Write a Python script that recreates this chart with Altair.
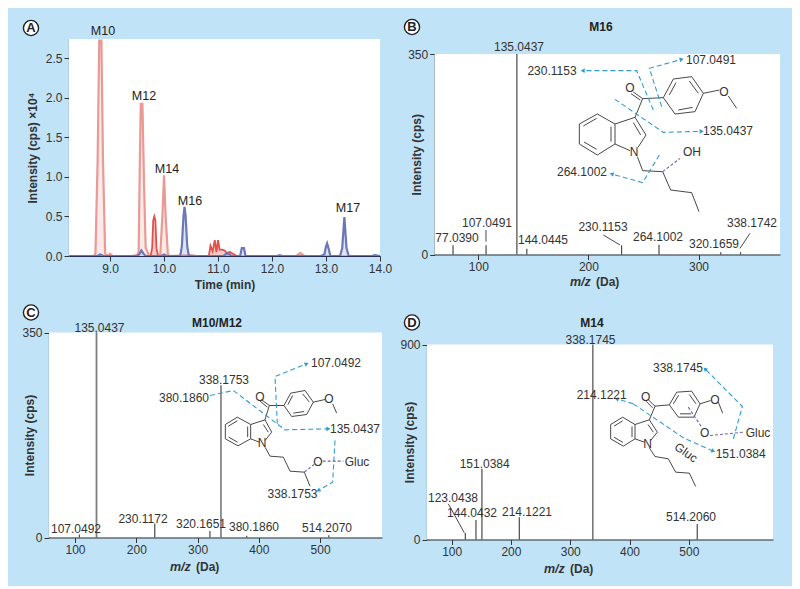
import math
import altair as alt
import pandas as pd

FONT = "Liberation Sans"
BG = "#c1e3f7"
INK = "#333333"
BLUE = "#2f9bd3"
PURPLE = "#6a63b5"
CW, CH = 392, 288.5
ORIG = {"A": (8, 8), "B": (400, 8), "C": (8, 296.5), "D": (400, 296.5)}

# ---------- panel A: chromatogram traces (min, cps x 10^4)
red_t = [8.24, 8.70, 8.73, 8.77, 8.80, 8.84, 8.87, 8.91, 8.95, 9.0, 9.05, 9.40, 9.50, 9.53, 9.55, 9.57, 9.60, 9.63, 9.66, 9.69, 9.72, 9.90, 9.93, 9.97, 10.0, 10.03, 10.07, 10.10, 10.5, 10.6, 12.45, 12.52, 12.6, 14.0]
red_i = [0, 0, 0.03, 1.2, 2.72, 2.72, 1.2, 0.03, 0, 0.03, 0, 0, 0.01, 0.05, 1.1, 1.92, 1.92, 0.9, 0.10, 0.06, 0.0, 0.0, 0.02, 0.5, 1.02, 0.5, 0.03, 0, 0.01, 0, 0, 0.04, 0, 0]
dark_t = [9.75, 9.78, 9.80, 9.82, 9.84, 9.86, 9.89, 10.83, 10.86, 10.90, 10.94, 10.97, 11.0, 11.03, 11.08, 11.12, 11.16, 11.22, 11.3, 11.35]
dark_i = [0, 0.1, 0.45, 0.50, 0.45, 0.1, 0, 0, 0.13, 0.06, 0.20, 0.05, 0.20, 0.08, 0.08, 0.07, 0.04, 0.05, 0.02, 0]
blue_t = [8.24, 8.76, 8.82, 8.88, 9.5, 9.54, 9.58, 9.62, 9.66, 9.95, 10.0, 10.05, 10.30, 10.33, 10.36, 10.38, 10.40, 10.43, 10.46, 11.1, 11.16, 11.2, 11.25, 11.41, 11.44, 11.48, 11.51, 12.1, 12.14, 12.2, 12.9, 12.97, 13.0, 13.02, 13.05, 13.08, 13.26, 13.30, 13.34, 13.38, 13.42, 13.85, 13.9, 14.0]
blue_i = [0, 0, 0.02, 0, 0, 0.02, 0.07, 0.03, 0, 0, 0.02, 0, 0, 0.12, 0.5, 0.62, 0.5, 0.12, 0, 0, 0.03, 0.03, 0, 0, 0.10, 0.10, 0, 0, 0.01, 0, 0, 0.02, 0.12, 0.16, 0.09, 0, 0, 0.1, 0.49, 0.1, 0, 0, 0.01, 0]

# ---------- spectra: m/z and intensity
b_mz = [77.04, 107.05, 135.04, 144.04, 230.12, 264.10, 320.17, 338.17]
b_int = [16, 16, 350, 10, 16, 17, 4, 4]
c_mz = [107.05, 135.04, 230.12, 320.17, 338.18, 380.19, 514.21]
c_int = [5, 350, 24, 11, 260, 3, 4]
d_mz = [123.04, 141.0, 151.04, 214.12, 338.17, 514.21]
d_int = [30, 90, 326, 103, 900, 72]

# ---------- labels: text, then image-pixel centre
a_labels = [("M10", 103, 31), ("M12", 144, 96), ("M14", 167, 169), ("M16", 190, 201), ("M17", 348, 208)]
b_labels = [("135.0437", 519, 47), ("77.0390", 457, 238), ("107.0491", 487, 223), ("144.0445", 543, 240),
            ("230.1153", 603, 227), ("264.1002", 658, 237), ("320.1659", 714, 244), ("338.1742", 752, 223),
            ("230.1153", 552, 71), ("107.0491", 711, 60), ("135.0437", 728, 131), ("264.1002", 582, 172),
            ("OH", 692, 152), ("O", 630, 88), ("O", 724, 92), ("N", 634, 152)]
c_labels = [("135.0437", 99.5, 327), ("107.0492", 76, 528), ("230.1172", 143, 518), ("320.1651", 201, 523),
            ("380.1860", 254, 526), ("514.2070", 327, 527), ("338.1753", 224, 379), ("380.1860", 184, 397),
            ("107.0492", 336, 362), ("135.0437", 355, 428), ("338.1753", 292.5, 493), ("Gluc", 357, 461),
            ("O", 329, 398), ("O", 318, 461), ("N", 262, 442), ("O", 260, 396)]
d_labels = [("338.1745", 590.5, 339), ("151.0384", 484.7, 463), ("123.0438", 453, 497), ("144.0432", 472, 512),
            ("214.1221", 527, 511), ("514.2060", 691, 516), ("338.1745", 678, 367), ("214.1221", 601.7, 394),
            ("151.0384", 740.7, 453), ("Gluc", 758, 432), ("O", 645.7, 396), ("O", 715, 399), ("O", 704.7, 432),
            ("N", 647.7, 443)]

b_solid = [
    [(592,342),(645,372),(645,432),(592,465),(538,432),(538,372),(592,342)],
    [(550,378),(590,355)], [(552,426),(590,448)], [(633,380),(633,425)],
    [(645,372),(705,352),(738,405),(714,442)], [(645,432),(690,452)], [(700,368),(722,405)],
    [(705,352),(728,296),(790,293)], [(728,296),(700,276)], [(721,300),(693,281)],
    [(790,293),(820,237),(875,230),(910,280),(885,335),(825,342),(790,293)],
    [(808,285),(828,248)], [(868,243),(895,280)], [(878,322),(835,330)],
    [(910,280),(958,270)], [(985,288),(1010,325)],
    [(712,470),(728,512),(788,515),(812,570),(875,578),(897,635)],
]
b_blue = [
    [(760,330),(710,212),(548,212)], [(785,320),(748,205),(845,178)],
    [(645,298),(790,397),(905,394)], [(778,465),(728,548),(635,522)],
]
b_purple = [[(788,515),(840,475)]]
b_leaders = [[(258,690),(258,725)], [(610,705),(660,735)], [(1020,745),(1050,700)]]

c_solid = [
    [(712,350),(752,372),(752,415),(714,436),(676,415),(676,372),(712,350)],
    [(685,377),(712,361)], [(686,410),(713,425)], [(743,378),(743,410)],
    [(752,372),(795,358),(815,395),(795,420)], [(752,415),(778,425)], [(790,372),(805,395)],
    [(795,358),(808,315),(852,315)], [(808,315),(785,298)], [(802,320),(780,302)],
    [(852,315),(872,278),(915,270),(940,305),(920,342),(875,348),(852,315)],
    [(864,312),(878,285)], [(908,280),(928,305)], [(912,333),(880,338)],
    [(940,305),(975,297)], [(998,310),(1010,338)],
    [(795,440),(810,467),(850,470),(870,512),(913,515),(930,557)],
]
c_blue = [
    [(832,370),(825,228),(920,190)], [(630,285),(700,270),(855,388),(985,385)],
    [(1005,420),(998,545),(955,570)],
]
c_purple = [[(913,515),(942,492)], [(968,482),(1030,482)]]

d_solid = [
    [(668,350),(705,372),(705,415),(670,437),(632,415),(632,372),(668,350)],
    [(642,377),(668,361)], [(642,410),(669,426)], [(696,378),(696,410)],
    [(705,372),(748,358),(772,395),(752,420)], [(705,415),(733,425)], [(744,372),(760,395)],
    [(748,358),(765,317),(808,313)], [(765,317),(745,298)], [(758,322),(738,302)],
    [(808,313),(830,275),(875,272),(900,310),(882,350),(835,350),(808,313)],
    [(820,310),(836,284)], [(868,282),(888,310)], [(873,340),(840,340)],
    [(900,310),(932,300)], [(955,305),(968,338)],
    [(748,442),(765,468),(805,475),(827,515),(868,518),(887,558)],
]
d_blue = [
    [(1000,415),(1027,318),(915,205)], [(700,310),(850,412),(940,452)], [(700,310),(650,295)],
]
d_purple = [[(865,320),(905,380)], [(930,405),(1030,395)]]
d_leaders = [[(145,610),(193,697)]]


class P:
    def __init__(self, key, xpx, ypx, xd, yd, crop):
        self.key, self.xpx, self.ypx, self.xd, self.yd, self.crop = key, xpx, ypx, xd, yd, crop
        self.ox, self.oy = ORIG[key]

    def dx(self, px):
        return self.xd[0] + (px - self.xpx[0]) / (self.xpx[1] - self.xpx[0]) * (self.xd[1] - self.xd[0])

    def dy(self, py):
        return self.yd[0] + (py - self.ypx[0]) / (self.ypx[1] - self.ypx[0]) * (self.yd[1] - self.yd[0])

    def crop_xy(self, z):
        return self.crop[0] + z[0] / 3, self.crop[1] + z[1] / 3

    def encs(self, xticks, yticks, fmt, xtitle, ytitle, tpad, ypad, domain=INK):
        sx = alt.Scale(domain=list(self.xd), range=[self.xpx[0] - self.ox, self.xpx[1] - self.ox], nice=False, zero=False)
        sy = alt.Scale(domain=list(self.yd), range=[self.ypx[0] - self.oy, self.ypx[1] - self.oy], nice=False, zero=False)
        common = dict(tickColor=INK, labelColor=INK, titleColor=INK, grid=False, tickSize=5,
                      labelFont=FONT, titleFont=FONT, labelFontSize=12, titleFontSize=12, titleFontWeight="bold",
                      domainWidth=1.2, tickWidth=1, labelPadding=2)
        ax = alt.Axis(orient="bottom", offset=-(CH - (self.ypx[0] - self.oy)), values=xticks, format=fmt, domainColor=domain,
                      title=xtitle, titlePadding=tpad, labelFlush=False, labelOverlap=False, zindex=1, **common)
        ay = alt.Axis(orient="left", offset=-(self.xpx[0] - self.ox), values=yticks, title=ytitle, domainColor=INK,
                      titlePadding=ypad, labelOverlap=False, **common)
        self.X = alt.X("x:Q", scale=sx, axis=ax)
        self.Y = alt.Y("y:Q", scale=sy, axis=ay)

    def base(self):
        df = pd.DataFrame({"x": [self.xd[0]], "x2": [self.xd[1]], "y": [self.yd[0]], "y2": [self.yd[1]]})
        return alt.Chart(df).mark_rect(color="white").encode(x=self.X, x2="x2:Q", y=self.Y, y2="y2:Q")

    def texts(self, labels, size=12, color=INK, **kw):
        df = pd.DataFrame([{"t": t, "x": self.dx(a), "y": self.dy(b)} for t, a, b in labels])
        return alt.Chart(df).mark_text(font=FONT, fontSize=size, color=color, **kw).encode(x=self.X, y=self.Y, text="t:N")

    def lines(self, polys, color, width=1.0, dash=None):
        rows = []
        for i, poly in enumerate(polys):
            for j, z in enumerate(poly):
                a, b = self.crop_xy(z)
                rows.append({"id": i, "o": j, "x": self.dx(a), "y": self.dy(b)})
        kw = {"strokeDash": dash} if dash else {}
        return alt.Chart(pd.DataFrame(rows)).mark_line(color=color, strokeWidth=width, **kw).encode(
            x=self.X, y=self.Y, detail="id:N", order="o:Q")

    def heads(self, polys, color=BLUE):
        rows = []
        for poly in polys:
            a0, b0 = self.crop_xy(poly[-2])
            a1, b1 = self.crop_xy(poly[-1])
            rows.append({"x": self.dx(a1), "y": self.dy(b1), "a": (math.degrees(math.atan2(a1 - a0, b0 - b1)) + 360) % 360})
        return alt.Chart(pd.DataFrame(rows)).mark_point(shape="triangle-up", filled=True, size=22, color=color, opacity=1).encode(
            x=self.X, y=self.Y, angle=alt.Angle("a:Q", scale=None))

    def badge(self, letter, cx, cy):
        df = pd.DataFrame({"x": [self.dx(cx)], "y": [self.dy(cy)], "t": [letter]})
        c = alt.Chart(df).mark_point(shape="circle", filled=True, fill="white", stroke="#222222", strokeWidth=1.4, size=230, opacity=1).encode(x=self.X, y=self.Y)
        t = alt.Chart(df).mark_text(font=FONT, fontSize=13, fontWeight="bold", color="#222222").encode(x=self.X, y=self.Y, text="t:N")
        return [c, t]

    def peaks(self, mz, inten, width=1.2, color="#4a4a4a"):
        df = pd.DataFrame({"x": mz, "y": inten, "y2": [0] * len(mz)})
        return alt.Chart(df).mark_rule(color=color, strokeWidth=width).encode(x=self.X, y=self.Y, y2="y2:Q")

    def mz_title(self, cx, cy):
        df1 = pd.DataFrame({"x": [self.dx(cx - 24)], "y": [self.dy(cy)], "t": ["m/z"]})
        df2 = pd.DataFrame({"x": [self.dx(cx + 2)], "y": [self.dy(cy)], "t": ["(Da)"]})
        a = alt.Chart(df1).mark_text(font=FONT, fontSize=12.5, fontWeight="bold", fontStyle="italic", color=INK, align="left").encode(x=self.X, y=self.Y, text="t:N")
        b = alt.Chart(df2).mark_text(font=FONT, fontSize=12, fontWeight="bold", color=INK, align="left").encode(x=self.X, y=self.Y, text="t:N")
        return [a, b]

    def title_mark(self, t, cx, cy):
        return self.texts([(t, cx, cy)], size=12, color="#222222", fontWeight="bold")


def finish(layers):
    return alt.layer(*layers).properties(width=CW, height=CH)


# Panel A
pa = P("A", (69, 380), (256, 39), (8.24, 14.0), (0, 2.74), (0, 0))
pa.encs([9, 10, 11, 12, 13, 14], [0, 0.5, 1.0, 1.5, 2.0, 2.5], ".1f", "Time (min)", "Intensity (cps) ×10⁴", 5, 6, domain="#2b2f55")


def trace(t, i, color, fill, width):
    df = pd.DataFrame({"x": t, "y": i, "o": range(len(t))})
    area = alt.Chart(df).mark_area(color=fill, opacity=0.45).encode(x=pa.X, y=pa.Y, order="o:Q")
    line = alt.Chart(df).mark_line(color=color, strokeWidth=width).encode(x=pa.X, y=pa.Y, order="o:Q")
    return [area, line]


red_main = trace(red_t, red_i, "#e99a95", "#f6cfcc", 2.2)
red_dark = trace(dark_t, dark_i, "#e2504a", "#ee8580", 1.8)
blue_main = trace(blue_t, blue_i, "#6b78b8", "#b9c0e2", 2.2)
A = finish([pa.base()] + red_main + red_dark + blue_main + [pa.texts(a_labels, size=12.5, color="#222222")] + pa.badge("A", 31, 28))

# Panel B
pb = P("B", (434.7, 780), (254.5, 54), (60.4, 374), (0, 350), (400, 0))
pb.encs([100, 200, 300], [0, 350], "d", None, "Intensity (cps)", 5, -16)
B = finish([pb.base(), pb.peaks(b_mz, b_int), pb.lines(b_leaders, "#4a4a4a"), pb.lines(b_solid, "#333333", 0.9),
            pb.lines(b_blue, BLUE, 1.1, [5, 3]), pb.heads(b_blue), pb.lines(b_purple, PURPLE, 1.1, [3, 2]),
            pb.texts(b_labels)] + pb.mz_title(594, 282) + [pb.title_mark("M16", 601, 27)] + pb.badge("B", 412, 27))

# Panel C
pc = P("C", (49, 382), (537, 332), (57.5, 601), (0, 350), (0, 300))
pc.encs([100, 200, 300, 400, 500], [0, 350], "d", None, "Intensity (cps)", 5, -15)
C = finish([pc.base(), pc.peaks(c_mz, c_int), pc.peaks([c_mz[1]], [c_int[1]], 1.6, "#7d7d7d"),
            pc.lines(c_solid, "#333333", 0.9), pc.lines(c_blue, BLUE, 1.1, [5, 3]), pc.heads(c_blue),
            pc.lines(c_purple, PURPLE, 1.1, [3, 2]), pc.texts(c_labels)] + pc.mz_title(194, 566) +
           [pc.title_mark("M10/M12", 217, 322)] + pc.badge("C", 31, 312))

# Panel D
pd_ = P("D", (427, 773), (539, 344), (58.4, 642), (0, 900), (400, 300))
pd_.encs([100, 200, 300, 400, 500], [0, 900], "d", None, "Intensity (cps)", 5, -17)
D = finish([pd_.base(), pd_.peaks(d_mz, d_int), pd_.lines(d_leaders, "#4a4a4a"), pd_.lines(d_solid, "#333333", 0.9),
            pd_.lines(d_blue, BLUE, 1.1, [5, 3]), pd_.heads(d_blue), pd_.lines(d_purple, PURPLE, 1.1, [3, 2]),
            pd_.texts(d_labels), pd_.texts([("Gluc", 686, 452)], angle=35)] + pd_.mz_title(568, 568) +
           [pd_.title_mark("M14", 592, 322)] + pd_.badge("D", 412, 322))

chart = alt.concat(A, B, C, D, columns=2, spacing=0, bounds="flush").properties(
    background=BG, padding=0
).configure(font=FONT).configure_view(stroke=None)

chart.save("out.html", embed_options={"renderer": "svg", "actions": False})
